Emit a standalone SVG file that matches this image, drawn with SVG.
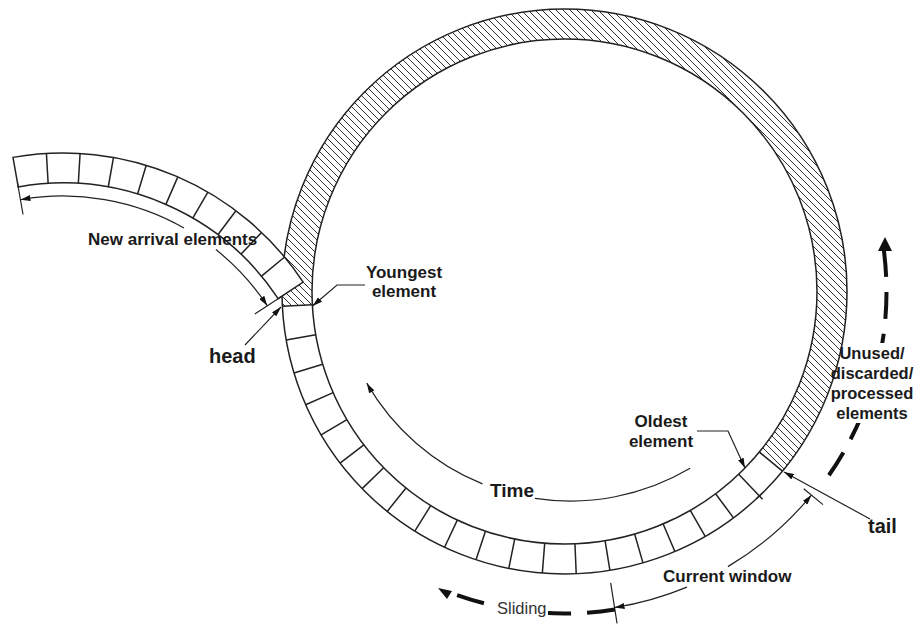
<svg xmlns="http://www.w3.org/2000/svg" width="915" height="624" viewBox="0 0 915 624">
<style>
.ln{fill:none;stroke:#222;stroke-width:1.2}
.edge{fill:none;stroke:#222;stroke-width:1.5}
.cell{fill:#fff;stroke:#222;stroke-width:1.5}
.dash{fill:none;stroke:#111;stroke-width:4}
.lbl{font-family:"Liberation Sans",Arial,sans-serif;font-weight:bold;font-size:17px;fill:#1a1a1a}
.side{font-family:"Liberation Sans",Arial,sans-serif;font-weight:bold;font-size:16.5px;fill:#1a1a1a}
.big{font-family:"Liberation Sans",Arial,sans-serif;font-weight:bold;font-size:20px;fill:#1a1a1a}
.reg{font-family:"Liberation Sans",Arial,sans-serif;font-size:16.5px;fill:#333}
</style>
<defs>
<pattern id="hatch" width="7" height="7" patternUnits="userSpaceOnUse">
<path d="M-1,-1 L8,8 M-1,6 L1,8 M6,-1 L8,1" stroke="#333" stroke-width="1"/>
</pattern>
<marker id="ah" viewBox="0 0 10 6" refX="10" refY="3" markerWidth="10" markerHeight="6" orient="auto" markerUnits="userSpaceOnUse">
<path d="M0,0 L10,3 L0,6 z" fill="#111"/>
</marker>
</defs>
<rect width="915" height="624" fill="#fff"/>

<g id="buffer-ring">
<path d="M782.48,471.19 A282.5,282.5 0 1 0 282.39,306.29 L312.35,304.72 A252.5,252.5 0 1 1 759.33,452.11 Z" fill="url(#hatch)"/>
<circle cx="564.5" cy="291.5" r="282.5" class="edge"/>
<circle cx="564.5" cy="291.5" r="252.5" class="edge"/>
<path class="edge" d="M312.35,304.72 L282.39,306.29 M315.74,334.80 L286.19,339.95 M322.71,364.27 L293.99,372.92 M333.16,392.67 L305.67,404.69 M346.94,419.65 L321.09,434.88 M363.87,444.81 L340.03,463.03 M383.63,467.69 L362.15,488.63 M406.01,488.06 L387.18,511.42 M430.70,505.63 L414.80,531.07 M457.31,520.12 L444.57,547.28 M485.43,531.30 L476.03,559.79 M514.70,539.04 L508.78,568.45 M544.69,543.22 L542.34,573.13 M574.96,543.78 L576.21,573.76 M605.09,540.72 L609.91,570.33 M634.63,534.07 L642.96,562.89 M663.16,523.93 L674.88,551.54 M690.27,510.44 L705.21,536.46 M715.58,493.82 L733.53,517.85 M738.72,474.26 L762.53,499.24 M759.33,452.11 L782.48,471.19"/>
<path class="ln" d="M756.5,498.7 L762.3,493.2"/>
</g>

<g id="arrival-band">
<path class="cell" d="M12.99,157.37 A288,288 0 0 1 303.16,282.04 L278.14,298.60 A258,258 0 0 0 18.20,186.92 Z"/>
<path class="edge" d="M46.42,153.48 L48.15,183.43 M80.08,153.51 L78.30,183.45 M113.51,157.46 L108.25,187.00 M146.24,165.29 L137.57,194.01 M177.84,176.89 L165.88,204.40 M207.87,192.09 L192.78,218.02 M235.92,210.69 L217.91,234.68 M261.61,232.44 L240.92,254.16 M284.59,257.03 L261.51,276.20"/>
</g>

<g id="connectors">
<path class="ln" d="M17.5,183 L23.06,214.49 M254.8,314.05 L281.5,296.4"/>
<path class="ln" marker-end="url(#ah)" d="M184.01,227.97 A245,245 0 0 0 20.46,199.72"/>
<path class="ln" marker-end="url(#ah)" d="M215.85,249.53 A245,245 0 0 1 267.30,305.77"/>
<path class="ln" marker-end="url(#ah)" d="M365,285 L337,285 L312.5,306"/>
<path class="ln" marker-end="url(#ah)" d="M245,345 L281,307"/>
<path class="ln" marker-end="url(#ah)" d="M870,519 L784,472"/>
<path class="ln" marker-end="url(#ah)" d="M697,431 L728,431 L745,468"/>
<path class="ln" d="M690.12,468.27 A235,235 0 0 1 534.95,498.30"/>
<path class="ln" marker-end="url(#ah)" d="M482.47,483.89 A235,235 0 0 1 366.78,383.15"/>
<path class="ln" d="M803.7,488.7 L822.99,504.59 M610.65,582.87 L617.06,623.36"/>
<path class="ln" marker-end="url(#ah)" d="M727.90,566.63 A320,320 0 0 0 811.42,495.05"/>
<path class="ln" marker-end="url(#ah)" d="M686.96,587.14 A320,320 0 0 1 614.56,607.56"/>
<path class="dash" stroke-dasharray="28 16" d="M614.87,609.54 A322,322 0 0 1 451.73,593.11"/>
<polygon points="438,588 452,591 447,599" fill="#111"/>
<path class="dash" stroke-dasharray="27 15" d="M883.82,250.03 A322,322 0 0 1 825.0,480.77"/>
<polygon points="885,237 878,251 892,251" fill="#111"/>
</g>

<g id="labels">
<text class="lbl" x="88" y="245">New arrival elements</text>
<text class="lbl" x="404" y="278" text-anchor="middle">Youngest</text>
<text class="lbl" x="404" y="297" text-anchor="middle">element</text>
<text class="big" x="209" y="363">head</text>
<text class="big" x="490" y="497" style="font-size:19px">Time</text>
<text class="lbl" x="661" y="427" text-anchor="middle">Oldest</text>
<text class="lbl" x="661" y="447" text-anchor="middle">element</text>
<rect x="848" y="343" width="60" height="80" fill="#fff"/>
<text class="side" x="872" y="359" text-anchor="middle">Unused/</text>
<text class="side" x="872" y="379" text-anchor="middle">discarded/</text>
<text class="side" x="872" y="399" text-anchor="middle">processed</text>
<text class="side" x="872" y="419" text-anchor="middle">elements</text>
<text class="big" x="868" y="533">tail</text>
<text class="lbl" x="663" y="582">Current window</text>
<rect x="494" y="600" width="54" height="19" fill="#fff"/>
<text class="reg" x="497" y="614">Sliding</text>
</g>
</svg>
